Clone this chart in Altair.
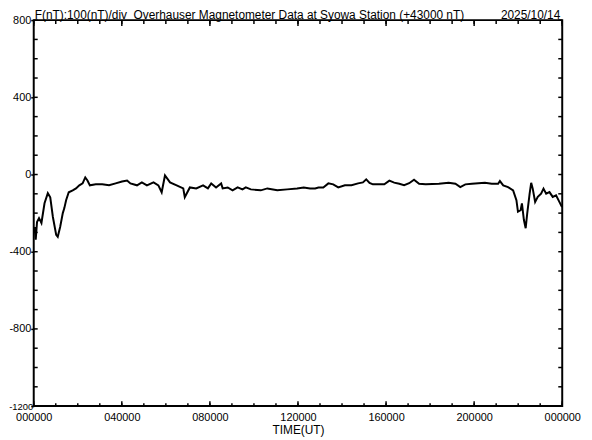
import altair as alt
import pandas as pd

# ---- data (time in hours UT, F in nT relative to +43000 nT)
hours = [0.04, 0.09, 0.15, 0.24, 0.35, 0.49, 0.64, 0.75, 0.87, 1.02, 1.09, 1.20, 1.32, 1.39,
         1.47, 1.59, 1.77, 1.92, 2.07, 2.22, 2.34, 2.44, 2.55, 2.82, 3.11, 3.42, 3.72, 4.01,
         4.24, 4.39, 4.69, 4.91, 5.14, 5.44, 5.66, 5.81, 5.96, 6.19, 6.49, 6.79, 6.86, 7.09,
         7.38, 7.69, 7.91, 8.06, 8.28, 8.51, 8.58, 8.81, 9.03, 9.26, 9.48, 9.63, 9.86, 10.31,
         10.61, 11.06, 11.51, 11.96, 12.26, 12.55, 12.78, 12.93, 13.15, 13.38, 13.60, 13.83,
         14.13, 14.43, 14.73, 14.95, 15.10, 15.25, 15.40, 15.63, 15.92, 16.15, 16.37, 16.60,
         16.82, 17.05, 17.27, 17.50, 17.80, 18.40, 18.84, 19.15, 19.37, 19.60, 19.90, 20.19,
         20.49, 20.80, 21.09, 21.17, 21.32, 21.54, 21.77, 21.92, 21.99, 22.11, 22.17, 22.26,
         22.34, 22.41, 22.52, 22.59, 22.66, 22.77, 22.89, 23.04, 23.15, 23.27, 23.42, 23.57,
         23.72, 23.87, 23.99]
values = [-272, -338, -246, -226, -251, -149, -97, -118, -220, -313, -323, -272, -200, -174,
          -133, -92, -82, -72, -56, -46, -15, -31, -56, -51, -51, -56, -46, -36,
          -31, -46, -56, -41, -56, -41, -56, -92, -5, -41, -56, -72, -118, -67,
          -72, -56, -72, -46, -67, -46, -72, -67, -82, -67, -77, -67, -77, -82,
          -72, -82, -77, -72, -67, -72, -72, -67, -67, -46, -51, -67,
          -56, -56, -46, -41, -25, -43, -51, -51, -51, -32, -42, -48,
          -55, -45, -27, -48, -51, -48, -43, -48, -65, -51, -48, -45,
          -43, -48, -48, -34, -56, -65, -82, -133, -193, -185, -150, -236,
          -278, -202, -99, -43, -73, -142, -116, -99, -73, -99, -91, -116,
          -108, -142, -168]

x_tick_hours = list(range(0, 25))
x_label_hours = [0, 4, 8, 12, 16, 20, 24]
y_tick_values = list(range(-1200, 801, 100))
y_label_values = [-1200, -800, -400, 0, 400, 800]

title_left = "F(nT):100(nT)/div\u00a0 Overhauser Magnetometer Data at Syowa Station (+43000 nT)"
title_right = "2025/10/14"
x_title = "TIME(UT)"

W, H = 534, 390
FONT = "Liberation Sans"

df = pd.DataFrame({"t": hours, "f": values})
xt = pd.DataFrame({"t": x_tick_hours})
xt_major = pd.DataFrame({"t": x_label_hours})
yt = pd.DataFrame({"f": y_tick_values})

xs = alt.Scale(domain=[0, 24], nice=False, zero=False)
ys = alt.Scale(domain=[-1200, 800], nice=False, zero=False)

x_axis = alt.Axis(
    values=x_label_hours,
    labelExpr="(datum.value == 0 || datum.value == 24) ? '000000' : ((datum.value < 10 ? '0' : '') + datum.value + '0000')",
    title=x_title, titleFont=FONT, titleFontSize=12, titleFontWeight="normal",
    titleColor="black", titlePadding=2,
    labelFont=FONT, labelFontSize=11, labelColor="black", labelPadding=6,
    labelFlush=False, labelOverlap=False, tickSize=0, domain=False, grid=False)
y_axis = alt.Axis(
    values=y_label_values, labelExpr="'' + datum.value",
    title=None, labelFont=FONT,
    labelFontSize={"condition": {"test": "datum.value < -1000", "value": 9.5}, "value": 11},
    labelPadding={"condition": {"test": "datum.value < -1000", "value": -2}, "value": 0},
    labelColor="black", labelFlush=False, labelOverlap=False,
    tickSize=3, tickColor="black", tickWidth=1.5, domain=False, grid=False)

X = alt.X("t:Q", scale=xs, axis=x_axis)
Y = alt.Y("f:Q", scale=ys, axis=y_axis)

line = alt.Chart(df).mark_line(color="black", strokeWidth=2).encode(x=X, y=Y)

tick_style = dict(color="black", strokeWidth=1.5)
bottom_minor = alt.Chart(xt).mark_rule(**tick_style).encode(
    x=X, y=alt.value(H), y2=alt.value(H - 3))
bottom_major = alt.Chart(xt_major).mark_rule(**tick_style).encode(
    x=X, y=alt.value(H), y2=alt.value(H - 5))
top_minor = alt.Chart(xt).mark_rule(**tick_style).encode(
    x=X, y=alt.value(0), y2=alt.value(4))
top_major = alt.Chart(xt_major).mark_rule(**tick_style).encode(
    x=X, y=alt.value(0), y2=alt.value(6))
left_ticks = alt.Chart(yt).mark_rule(**tick_style).encode(
    y=Y, x=alt.value(0), x2=alt.value(4))
right_ticks = alt.Chart(yt).mark_rule(**tick_style).encode(
    y=Y, x=alt.value(W), x2=alt.value(W - 4))

tl = alt.Chart(pd.DataFrame({"label": [title_left]})).mark_text(
    align="left", baseline="alphabetic", font=FONT, fontSize=12, color="black"
).encode(x=alt.value(1), y=alt.value(-1.2), text="label:N")
tr = alt.Chart(pd.DataFrame({"label": [title_right]})).mark_text(
    align="right", baseline="alphabetic", font=FONT, fontSize=12, color="black"
).encode(x=alt.value(W - 2), y=alt.value(-1.2), text="label:N")

chart = alt.layer(
    line, bottom_minor, bottom_major, top_minor, top_major, left_ticks, right_ticks, tl, tr
).properties(
    width=W, height=H,
    autosize=alt.AutoSizeParams(type="none"),
    padding={"left": 26, "top": 10, "right": 22, "bottom": 32},
    background="white",
).configure_view(stroke="black", strokeWidth=2)

chart.save("out.html", embed_options={"renderer": "svg", "actions": False})
